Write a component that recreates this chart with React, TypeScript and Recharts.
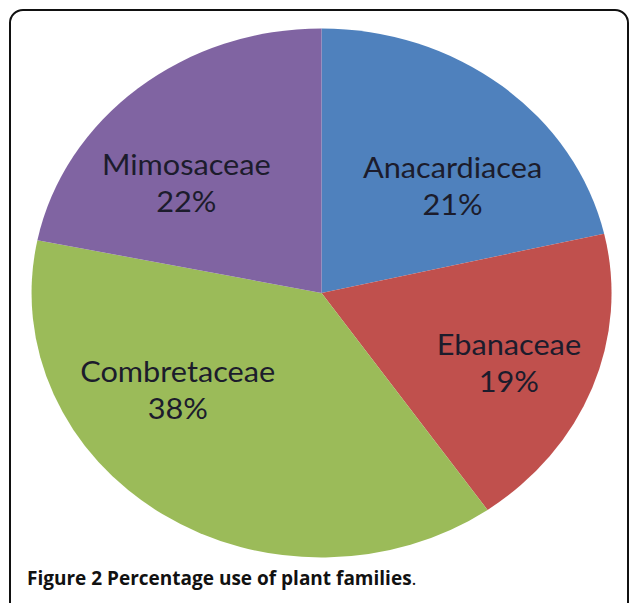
import { PieChart, Pie, Cell } from 'recharts'

// plant families, clockwise from 12 o'clock
const families = ['Anacardiacea', 'Ebanaceae', 'Combretaceae', 'Mimosaceae']
const shares = [21.4, 18.9, 37.9, 21.8]
const colors = ['#4F81BD', '#C0504D', '#9BBB59', '#8064A2']

// Excel "best fit" label placement: angle nudge (deg) and radius fraction per slice
const labelNudge = [-9.8, -1.6, -19.8, 9.2]
const labelRadius = [0.605, 0.7, 0.62, 0.623]

const data = families.map((name, i) => ({ name, value: shares[i] }))

const R = 264.5
const SIZE = 530
const STRETCH = 290 / 264.5
const RADIAN = Math.PI / 180

function renderLabel(props: any) {
  const { cx, cy, midAngle, outerRadius, percent, index, name } = props
  const angle = (midAngle + labelNudge[index]) * RADIAN
  const r = outerRadius * labelRadius[index]
  const x = cx + Math.cos(angle) * r
  const y = cy - Math.sin(angle) * r
  return (
    <text
      x={x}
      y={y}
      textAnchor="middle"
      fill="#1c1c2c"
      fontFamily="Lato, 'Noto Sans', sans-serif"
      fontSize={28}
    >
      <tspan x={x} y={y - 9}>{name}</tspan>
      <tspan x={x} y={y + 28}>{`${Math.round(percent * 100)}%`}</tspan>
    </text>
  )
}

export default function App() {
  return (
    <div
      style={{
        position: 'absolute',
        left: 0,
        top: 0,
        width: 629,
        height: 603,
        overflow: 'hidden',
        background: '#fff',
      }}
    >
      <div
        style={{
          position: 'absolute',
          left: 9,
          top: 9,
          width: 616,
          height: 620,
          border: '2px solid #111',
          borderRadius: 14,
        }}
      />
      <div
        style={{
          position: 'absolute',
          left: 322 - (SIZE / 2) * STRETCH,
          top: 292.5 - SIZE / 2,
          transform: `scaleX(${STRETCH})`,
          transformOrigin: 'left top',
        }}
      >
        <PieChart width={SIZE} height={SIZE} margin={{ top: 0, right: 0, bottom: 0, left: 0 }}>
          <Pie
            data={data}
            dataKey="value"
            nameKey="name"
            cx={SIZE / 2}
            cy={SIZE / 2}
            outerRadius={R}
            startAngle={90}
            endAngle={-270}
            stroke="none"
            label={renderLabel}
            labelLine={false}
            isAnimationActive={false}
          >
            {data.map((d, i) => (
              <Cell key={d.name} fill={colors[i]} />
            ))}
          </Pie>
        </PieChart>
      </div>
      <div
        style={{
          position: 'absolute',
          left: 27,
          top: 565,
          fontFamily: "'Open Sans', 'Noto Sans', sans-serif",
          fontSize: 19,
          color: '#111',
          whiteSpace: 'nowrap',
        }}
      >
        <span style={{ fontWeight: 700 }}>Figure 2 Percentage use of plant families</span>
        <span style={{ fontWeight: 400 }}>.</span>
      </div>
    </div>
  )
}
